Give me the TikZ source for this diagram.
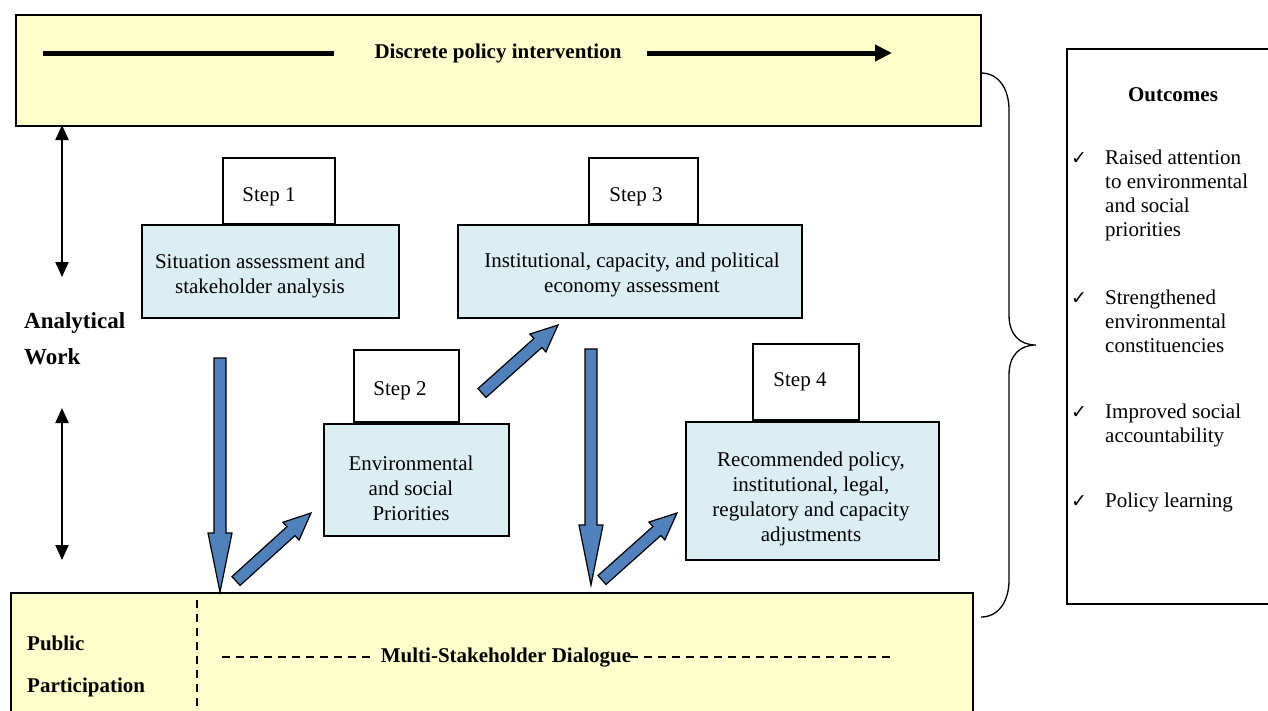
\documentclass[tikz,border=0pt]{standalone}
\usepackage{fontspec}
\setmainfont{Liberation Serif}
\newfontfamily\symbolfont{DejaVu Sans}
\usetikzlibrary{arrows.meta,calc}
\definecolor{barfill}{HTML}{FFFFCC}
\definecolor{boxfill}{HTML}{DBEEF4}
\definecolor{arrowblue}{HTML}{4F81BD}

% block arrow from #1 (tail) to #2 (tip), head length #3
\newcommand\blockarrow[3]{%
  \coordinate (ba-h) at ($(#2)!#3!(#1)$);
  \filldraw[blockarr] ($(#1)!6pt!90:(#2)$) -- ($(ba-h)!6pt!-90:(#1)$)
    -- ($(ba-h)!12pt!-90:(#1)$) -- (#2) -- ($(ba-h)!12pt!90:(#1)$)
    -- ($(ba-h)!6pt!90:(#1)$) -- ($(#1)!6pt!-90:(#2)$) -- cycle;}

\begin{document}
\begin{tikzpicture}[x=1pt,y=-1pt,
  bar/.style={draw, line width=1.5pt, fill=barfill, anchor=north west, inner sep=0pt},
  stepbox/.style={draw, line width=1.5pt, fill=white, anchor=north west, inner sep=0pt},
  infobox/.style={draw, line width=1.5pt, fill=boxfill, anchor=north west, inner sep=0pt},
  txt/.style={font=\fontsize{21}{25}\selectfont, inner sep=0pt, align=center},
  btxt/.style={font=\fontsize{21}{25}\selectfont\bfseries, inner sep=0pt},
  otxt/.style={font=\fontsize{21}{24}\selectfont, inner sep=0pt, align=left, anchor=north west},
  tick/.style={font=\symbolfont\fontsize{19}{19}\selectfont, inner sep=0pt, anchor=base west},
  blockarr/.style={draw=black, line width=1.2pt, fill=arrowblue, line join=miter},
  dblarrow/.style={line width=2pt, {Triangle[length=15pt,width=13pt]}-{Triangle[length=15pt,width=13pt]}},
  dashline/.style={line width=1.5pt, dash pattern=on 8pt off 6pt}
]
\useasboundingbox (0,0) rectangle (1268,710);

% top bar: discrete policy intervention
\node[bar, minimum width=965pt, minimum height=111pt] (top) at (15,14) {};
\node[btxt] (dpi) at (498,53) {Discrete policy intervention};
\coordinate (dl1) at (43,53);
\coordinate (dl2) at (334,53);
\coordinate (dr1) at (647,53);
\coordinate (dr2) at (892,53);
\draw[line width=5pt] (dl1) -- (dl2);
\draw[line width=5pt, -{Triangle[length=17pt,width=16pt]}] (dr1) -- (dr2);

% bottom bar: public participation
\node[bar, minimum width=962pt, minimum height=140pt] (bottom) at (10,592) {};
\node[btxt, anchor=base west] (pub) at (27,650) {Public};
\node[btxt, anchor=base west] (part) at (27,692) {Participation};
\coordinate (vd1) at (197,600);
\coordinate (vd2) at (197,712);
\draw[dashline] (vd1) -- (vd2);
\node[btxt] (msd) at (506,658) {Multi-Stakeholder Dialogue};
\coordinate (ml1) at (222,657);
\coordinate (ml2) at (370,657);
\coordinate (mr1) at (630,657);
\coordinate (mr2) at (890,657);
\draw[dashline] (ml1) -- (ml2);
\draw[dashline] (mr1) -- (mr2);

% analytical work
\node[font=\fontsize{23}{36}\selectfont\bfseries, inner sep=0pt, align=left, anchor=north west] (aw) at (24,312) {Analytical\\Work};
\coordinate (aa1) at (62,125);
\coordinate (aa2) at (62,277);
\coordinate (ab1) at (62,408);
\coordinate (ab2) at (62,560);
\draw[dblarrow] (aa1) -- (aa2);
\draw[dblarrow] (ab1) -- (ab2);

% step 1
\node[infobox, minimum width=257pt, minimum height=93pt] (b1) at (141,224) {};
\node[stepbox, minimum width=112pt, minimum height=66pt] (s1) at (222,157) {};
\node[txt] (s1t) at (269,197) {Step 1};
\node[txt] (b1t) at (260,276) {Situation assessment and\\stakeholder analysis};

% step 3
\node[infobox, minimum width=344pt, minimum height=93pt] (b3) at (457,224) {};
\node[stepbox, minimum width=109pt, minimum height=66pt] (s3) at (588,157) {};
\node[txt] (s3t) at (636,197) {Step 3};
\node[txt] (b3t) at (632,275) {Institutional, capacity, and political\\economy assessment};

% step 2
\node[infobox, minimum width=185pt, minimum height=112pt] (b2) at (323,423) {};
\node[stepbox, minimum width=105pt, minimum height=72pt] (s2) at (353,349) {};
\node[txt] (s2t) at (400,391) {Step 2};
\node[txt] (b2t) at (411,488) {Environmental\\and social\\Priorities};

% step 4
\node[infobox, minimum width=253pt, minimum height=138pt] (b4) at (685,421) {};
\node[stepbox, minimum width=106pt, minimum height=76pt] (s4) at (752,343) {};
\node[txt] (s4t) at (800,382) {Step 4};
\node[txt] (b4t) at (811,499) {Recommended policy,\\institutional, legal,\\regulatory and capacity\\adjustments};

% blue flow arrows
\coordinate (fa1) at (220,358);
\coordinate (fa2) at (220,592);
\coordinate (fb1) at (236,581);
\coordinate (fb2) at (311,513);
\coordinate (fc1) at (482,393);
\coordinate (fc2) at (558,325);
\coordinate (fd1) at (591,349);
\coordinate (fd2) at (591,585);
\coordinate (fe1) at (602,580);
\coordinate (fe2) at (677,513);
\blockarrow{fa1}{fa2}{59pt}
\blockarrow{fb1}{fb2}{27pt}
\blockarrow{fc1}{fc2}{27pt}
\blockarrow{fd1}{fd2}{60pt}
\blockarrow{fe1}{fe2}{27pt}

% brace towards the outcomes
\coordinate (brt) at (981,73);
\coordinate (brm) at (1036,345);
\coordinate (brb) at (981,617);
\draw[line width=1.3pt] (brt) .. controls (998,73) and (1009,88) .. (1009,110)
  -- (1009,315) .. controls (1009,335) and (1020,345) .. (brm)
  .. controls (1020,345) and (1009,355) .. (1009,375)
  -- (1009,580) .. controls (1009,602) and (998,617) .. (brb);

% outcomes box
\node[draw, line width=1.5pt, anchor=north west, inner sep=0pt, minimum width=240pt, minimum height=555pt] (outc) at (1066,48) {};
\node[btxt] (oh) at (1173,95) {Outcomes};
\node[tick] (k1) at (1071,164) {✓};
\node[otxt] (o1) at (1105,150) {Raised attention\\to environmental\\and social\\priorities};
\node[tick] (k2) at (1071,304) {✓};
\node[otxt] (o2) at (1105,290) {Strengthened\\environmental\\constituencies};
\node[tick] (k3) at (1071,418) {✓};
\node[otxt] (o3) at (1105,404) {Improved social\\accountability};
\node[tick] (k4) at (1071,507) {✓};
\node[otxt] (o4) at (1105,493) {Policy learning};
\end{tikzpicture}
\end{document}
